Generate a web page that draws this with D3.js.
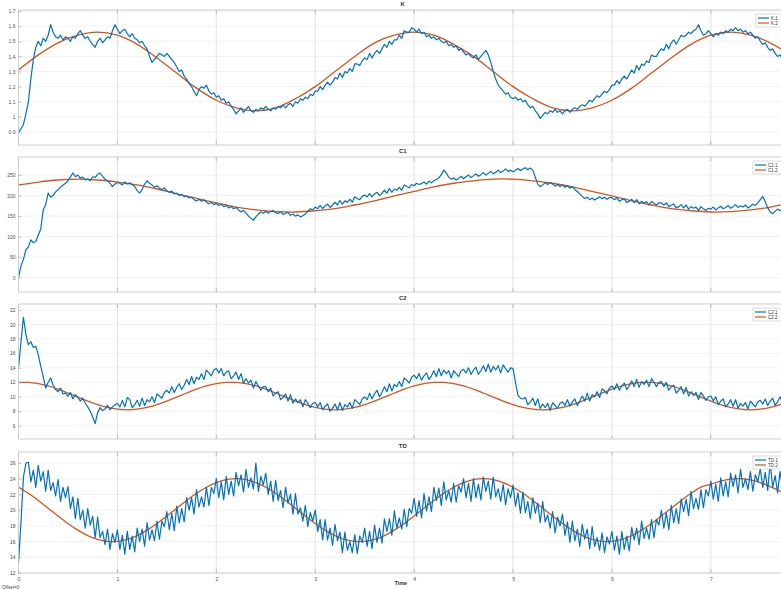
<!DOCTYPE html>
<html><head><meta charset="utf-8">
<script src="https://cdn.jsdelivr.net/npm/d3@7/dist/d3.min.js"></script>
<style>
body{margin:0;background:#fff;}
svg{display:block;font-family:"Liberation Sans",Arial,sans-serif;}
</style></head><body>
<svg id="chart" width="781" height="589"></svg>
<script>
// ---- sample times ----
const blueStep = 0.025;   // measured series sample interval
const orangeStepK = 0.2, orangeStepC1 = 0.2, orangeStepC2 = 0.1, orangeStepTD = 0.1;
const xTicks = [0,1,2,3,4,5,6,7];
const xLabel = "Time";
const offsetLabel = "Offset=0";

// ---- K ----
const kTicks = [0.9,1,1.1,1.2,1.3,1.4,1.5,1.6,1.7];
const K1 = [
0.90,0.92,0.95,1.02,1.10,1.25,1.38,1.46,1.50,1.47,1.52,1.50,1.54,1.61,1.56,1.53,1.52,1.54,1.51,1.53,1.52,1.50,1.53,1.52,1.55,1.57,1.54,1.52,1.53,1.50,1.48,1.46,1.50,1.52,1.49,1.51,1.53,1.52,1.57,1.61,
1.58,1.55,1.57,1.58,1.55,1.53,1.55,1.52,1.51,1.49,1.50,1.47,1.45,1.40,1.36,1.38,1.40,1.42,1.41,1.40,1.42,1.40,1.38,1.36,1.33,1.30,1.31,1.27,1.25,1.22,1.20,1.17,1.14,1.18,1.20,1.19,1.21,1.17,1.15,1.16,
1.13,1.14,1.11,1.12,1.09,1.10,1.07,1.05,1.02,1.04,1.06,1.03,1.05,1.07,1.04,1.03,1.05,1.04,1.06,1.05,1.07,1.05,1.04,1.06,1.05,1.07,1.06,1.08,1.06,1.08,1.09,1.07,1.10,1.09,1.12,1.11,1.13,1.12,1.15,1.14,
1.17,1.17,1.20,1.18,1.21,1.23,1.21,1.23,1.26,1.25,1.29,1.26,1.30,1.29,1.32,1.30,1.35,1.35,1.34,1.37,1.39,1.38,1.42,1.39,1.42,1.44,1.42,1.45,1.48,1.46,1.50,1.48,1.51,1.51,1.54,1.52,1.57,1.56,1.56,1.59,
1.58,1.56,1.58,1.55,1.56,1.53,1.54,1.52,1.53,1.51,1.52,1.50,1.49,1.50,1.47,1.48,1.46,1.47,1.44,1.45,1.43,1.41,1.42,1.40,1.39,1.41,1.38,1.40,1.42,1.44,1.41,1.36,1.30,1.25,1.21,1.19,1.17,1.15,1.16,1.13,
1.12,1.13,1.11,1.12,1.10,1.11,1.08,1.06,1.07,1.04,1.02,0.99,1.01,1.03,1.02,1.04,1.03,1.05,1.03,1.04,1.02,1.04,1.05,1.03,1.05,1.06,1.05,1.07,1.08,1.07,1.09,1.11,1.10,1.12,1.14,1.13,1.15,1.17,1.16,1.18,
1.21,1.21,1.24,1.22,1.25,1.27,1.25,1.28,1.31,1.29,1.34,1.31,1.35,1.34,1.37,1.36,1.41,1.40,1.40,1.43,1.45,1.44,1.48,1.45,1.49,1.51,1.48,1.51,1.54,1.53,1.54,1.56,1.55,1.57,1.58,1.61,1.57,1.54,1.55,1.57,
1.55,1.53,1.55,1.54,1.56,1.55,1.57,1.56,1.58,1.57,1.59,1.57,1.58,1.56,1.57,1.55,1.56,1.54,1.52,1.53,1.50,1.48,1.49,1.46,1.44,1.45,1.42,1.40,1.41,1.38,1.36,1.37];
const K2 = [1.31,1.41,1.49,1.54,1.56,1.54,1.48,1.39,1.29,1.19,1.11,1.06,1.04,1.06,1.12,1.20,1.30,1.40,1.49,1.54,
1.56,1.54,1.48,1.40,1.30,1.20,1.12,1.06,1.04,1.06,1.11,1.19,1.29,1.39,1.48,1.54,1.56,1.54,1.49,1.41];

// ---- C1 ----
const c1Ticks = [0,50,100,150,200,250];
const C1_1 = [
0,28,45,68,75,92,85,88,104,118,165,178,206,196,200,209,214,221,225,230,236,245,255,246,250,242,245,238,241,236,246,244,252,255,247,240,236,230,222,228,
232,230,226,233,228,231,227,222,212,206,215,228,236,230,226,220,224,218,214,219,212,208,211,204,206,200,203,197,199,194,196,190,187,191,186,189,184,180,183,178,
181,176,179,173,176,170,173,168,171,165,160,164,158,150,145,140,148,155,160,157,162,157,161,164,158,156,161,154,157,159,152,155,150,153,148,151,155,162,168,165,
172,168,176,168,175,179,171,177,184,177,188,179,187,184,191,184,197,193,190,198,201,197,205,197,204,208,200,206,213,206,217,208,216,213,220,213,226,222,219,227,
224,230,227,229,233,228,235,231,236,239,243,251,262,255,245,240,243,238,242,247,241,246,250,244,248,253,247,251,256,250,254,259,253,257,262,256,260,265,259,262,
258,262,266,261,265,268,263,267,262,245,228,222,226,231,227,232,228,223,227,222,226,220,224,218,222,215,210,204,198,193,196,190,194,189,193,197,192,196,191,195,
195,190,195,186,190,192,183,186,191,183,190,180,186,182,185,177,186,181,177,182,182,177,182,173,177,179,170,173,178,170,177,167,173,169,172,164,173,168,164,169,
167,172,165,170,174,168,171,176,169,173,178,171,175,172,177,170,174,179,176,182,190,198,185,170,160,156,162,167,163,168,172,168];
const C1_2 = [226,233,238,240,238,233,226,216,204,193,182,172,165,161,160,163,168,177,187,199,
210,221,230,236,240,240,236,230,221,210,199,187,177,168,163,160,161,165,172,182];

// ---- C2 ----
const c2Ticks = [6,8,10,12,14,16,18,20,22];
const C2_1 = [
14.0,17.5,21.0,18.6,17.2,17.6,16.8,17.0,15.8,14.2,12.8,11.2,12.0,12.6,11.6,11.0,10.7,11.2,10.4,10.5,10.1,10.6,9.7,10.3,9.9,9.4,9.8,9.1,8.6,8.0,7.2,6.3,7.8,8.5,8.1,8.3,8.8,8.2,8.6,8.9,
9.1,8.6,9.5,8.6,9.9,9.6,8.5,8.9,9.5,8.7,9.8,8.8,9.6,9.3,10.0,9.2,10.4,10.1,9.8,10.6,10.9,10.5,11.4,10.6,11.3,11.8,11.0,11.6,12.4,11.7,12.8,11.8,12.7,12.4,13.2,12.4,13.7,13.3,12.9,13.7,
13.9,13.3,13.9,12.9,13.4,13.6,12.5,12.9,13.4,12.4,13.2,11.9,12.5,11.9,12.3,11.2,12.1,11.5,10.9,11.4,11.4,10.7,11.2,10.1,10.5,10.7,9.6,9.9,10.4,9.4,10.3,9.1,9.7,9.2,9.6,8.6,9.6,9.1,8.5,9.1,
9.2,8.6,9.2,8.2,8.7,9.0,8.0,8.4,9.0,8.2,9.2,8.1,8.9,8.6,9.2,8.4,9.6,9.3,8.9,9.7,10.0,9.6,10.5,9.7,10.4,10.9,10.0,10.6,11.4,10.7,11.8,10.8,11.7,11.4,12.1,11.4,12.6,12.3,11.9,12.7,
13.0,12.5,13.2,12.3,12.9,13.3,12.4,12.9,13.6,12.8,13.9,12.9,13.7,13.2,13.6,12.6,13.6,13.2,12.8,13.6,13.8,13.3,14.0,13.1,13.7,14.1,13.1,13.6,14.3,13.5,14.5,13.4,14.2,13.7,14.3,13.3,14.4,13.9,13.4,14.0,
13.9,12.0,10.2,9.8,9.7,9.9,8.9,9.3,9.8,8.8,9.7,8.4,9.0,8.5,9.1,8.1,9.2,8.8,8.4,9.1,9.3,8.8,9.6,8.7,9.3,9.7,8.8,9.4,10.1,9.4,10.5,9.4,10.3,10.0,10.7,9.9,11.1,10.8,10.4,11.2,
11.5,11.0,11.8,10.9,11.5,11.9,11.0,11.5,12.2,11.4,12.4,11.3,12.1,11.7,12.3,11.4,12.5,12.0,11.4,12.0,12.1,11.4,12.0,10.9,11.4,11.6,10.5,10.9,11.4,10.4,11.3,10.1,10.7,10.2,10.6,9.6,10.6,10.1,9.5,10.0,
10.1,9.4,10.0,8.9,9.4,9.7,8.6,9.0,9.6,8.7,9.6,8.4,9.1,8.7,9.2,8.3,9.4,9.0,8.6,9.3,9.5,9.0,9.7,8.8,9.4,9.8,8.8,9.3,10.0,9.2,10.2,9.0];
const C2_2 = [
11.98,11.98,11.81,11.49,11.05,10.52,9.96,9.41,8.92,8.53,8.28,8.20,8.28,8.53,8.92,9.41,9.96,10.52,11.05,11.49,11.81,
11.98,11.98,11.81,11.49,11.05,10.52,9.96,9.41,8.92,8.53,8.28,8.20,8.28,8.53,8.92,9.41,9.96,10.52,11.05,11.49,11.81,
11.98,11.98,11.81,11.49,11.05,10.52,9.96,9.41,8.92,8.53,8.28,8.20,8.28,8.53,8.92,9.41,9.96,10.52,11.05,11.49,11.81,
11.98,11.98,11.81,11.49,11.05,10.52,9.96,9.41,8.92,8.53,8.28,8.20,8.28,8.53,8.92,9.41];

// ---- TD ----
const tdTicks = [12,14,16,18,20,22,24,26];
const TD1 = [
13.3,18.5,24.2,26.0,
26.1,23.6,25.1,22.9, 25.7,23.7,24.9,22.4, 25.1,22.5,23.5,21.8, 23.9,21.1,22.9,21.6, 23.0,20.2,21.7,18.9,
21.5,18.8,20.0,17.7, 20.2,18.1,19.2,16.5, 19.1,16.5,17.3,15.6, 17.6,15.0,17.0,15.9, 17.5,15.0,16.8,14.4,
17.3,15.0,16.7,14.7, 17.7,16.0,17.6,15.4, 18.4,16.2,17.5,16.1, 18.6,16.3,18.6,17.9, 19.8,17.5,19.6,17.4,
20.5,18.4,20.2,18.5, 21.6,20.0,21.6,19.5, 22.6,20.4,21.7,20.4, 22.9,20.6,22.9,22.1, 24.0,21.6,23.6,21.3,
24.3,22.0,23.7,21.8, 24.8,23.1,24.5,22.3, 25.2,22.9,24.1,22.7, 26.0,22.4,24.3,23.2, 24.7,22.0,23.7,21.1,
23.8,21.2,22.5,20.3, 22.9,20.9,22.0,19.5, 22.1,19.5,20.3,18.6, 20.6,17.9,19.7,18.6, 20.0,17.3,18.8,16.2,
18.8,16.2,17.7,15.5, 18.2,16.1,17.2,14.6, 17.2,14.9,16.0,14.6, 16.9,14.5,16.7,15.9, 17.7,15.4,17.3,15.1,
18.1,15.9,17.7,15.8, 18.9,17.3,18.9,16.8, 19.9,17.7,19.0,17.6, 20.1,17.9,20.2,19.6, 21.5,19.2,21.2,19.0,
22.1,19.9,21.7,19.8, 22.9,21.2,22.8,20.6, 23.6,21.3,22.5,21.0, 23.4,21.0,23.1,22.3, 24.0,21.6,23.4,21.1,
24.0,21.6,23.3,21.3, 24.2,22.4,23.7,21.4, 24.2,21.7,22.7,21.1, 23.3,20.7,22.7,21.6, 23.2,20.5,22.2,19.6,
22.3,19.7,21.1,18.9, 21.6,19.6,20.9,18.4, 21.1,18.5,19.4,17.7, 19.8,17.1,19.1,18.0, 19.5,16.8,18.5,15.9,
18.6,16.1,17.6,15.4, 18.2,16.3,17.6,15.1, 17.9,15.4,16.5,14.9, 17.1,14.6,16.6,15.7, 17.3,14.9,16.7,14.4,
17.3,15.0,16.7,14.8, 17.8,16.2,17.7,15.6, 18.6,16.4,17.7,16.3, 18.8,16.5,18.8,18.1, 20.0,17.7,19.7,17.5,
20.6,18.4,20.2,18.3, 21.4,19.8,21.4,19.3, 22.4,20.2,21.5,20.1, 22.6,20.3,22.6,21.8, 23.7,21.4,23.3,21.1,
24.1,21.8,23.6,21.7, 24.7,23.0,24.5,22.2, 25.2,22.9,24.0,22.6, 24.9,22.4,24.5,23.6, 25.3,22.9,24.8,22.5,
26.1,22.9,24.4,22.2, 24.9,22.9,24.1,21.6];
const TD2 = [
22.92,22.14,21.24,20.25,19.25,18.30,17.45,16.76,16.28,16.03,16.03,16.28,16.76,17.45,18.30,19.25,20.25,21.24,22.14,22.92,23.51,23.87,24.00,23.87,23.51,
22.92,22.14,21.24,20.25,19.25,18.30,17.45,16.76,16.28,16.03,16.03,16.28,16.76,17.45,18.30,19.25,20.25,21.24,22.14,22.92,23.51,23.87,24.00,23.87,23.51,
22.92,22.14,21.24,20.25,19.25,18.30,17.45,16.76,16.28,16.03,16.03,16.28,16.76,17.45,18.30,19.25,20.25,21.24,22.14,22.92,23.30,23.70,23.95,24.00,23.85,
23.50,23.00,22.40,21.70];

// ---- layout ----
const blue = "#0072BD", orange = "#D95319";
const svg = d3.select("#chart");
const x = d3.scaleLinear().domain([0, 7.77]).range([18.5, 787]);

const panels = [
  {title:"K",  blue:K1,   orange:K2,   oStep:orangeStepK,  ticks:kTicks,  names:["K.1","K.2"],   dom:[0.814,1.707], top:10,  bottom:145, legX:756},
  {title:"C1", blue:C1_1, orange:C1_2, oStep:orangeStepC1, ticks:c1Ticks, names:["C1.1","C1.2"], dom:[-35,294],     top:157, bottom:292, legX:753},
  {title:"C2", blue:C2_1, orange:C2_2, oStep:orangeStepC2, ticks:c2Ticks, names:["C2.1","C2.2"], dom:[4.16,22.83],  top:304, bottom:439, legX:753},
  {title:"TD", blue:TD1,  orange:TD2,  oStep:orangeStepTD, ticks:tdTicks, names:["TD.1","TD.2"], dom:[12,27.4],     top:452, bottom:573, legX:753}
];

const fmt = d => String(+d.toFixed(2));

panels.forEach((p, pi) => {
  const y = d3.scaleLinear().domain(p.dom).range([p.bottom, p.top]);
  const g = svg.append("g");
  const x0 = x.range()[0], x1 = x.range()[1];

  g.append("rect").attr("x", x0).attr("y", p.top).attr("width", x1 - x0).attr("height", p.bottom - p.top)
    .attr("fill", "#fff");

  // grid
  g.append("g").selectAll("line").data(p.ticks).join("line")
    .attr("x1", x0).attr("x2", x1).attr("y1", d => y(d)).attr("y2", d => y(d))
    .attr("stroke", "#ececec").attr("stroke-width", 0.7);
  g.append("g").selectAll("line").data(xTicks.filter(d => d > 0)).join("line")
    .attr("x1", d => x(d)).attr("x2", d => x(d)).attr("y1", p.top).attr("y2", p.bottom)
    .attr("stroke", "#dcdcdc").attr("stroke-width", 0.8);

  // clip
  const cid = "clip" + pi;
  svg.append("clipPath").attr("id", cid).append("rect")
    .attr("x", x0).attr("y", p.top).attr("width", x1 - x0).attr("height", p.bottom - p.top);

  const lb = d3.line().x((d, i) => x(i * blueStep)).y(d => y(d));
  const lo = d3.line().x((d, i) => x(i * p.oStep)).y(d => y(d)).curve(d3.curveCatmullRom.alpha(0.5));
  const lines = g.append("g").attr("clip-path", `url(#${cid})`);
  lines.append("path").attr("d", lo(p.orange)).attr("fill", "none")
    .attr("stroke", orange).attr("stroke-width", 1.3);
  lines.append("path").attr("d", lb(p.blue)).attr("fill", "none")
    .attr("stroke", blue).attr("stroke-width", 1.2).attr("stroke-linejoin", "round");

  // y axis (ticks inside)
  const ya = g.append("g").attr("transform", `translate(${x0},0)`)
    .call(d3.axisLeft(y).tickValues(p.ticks).tickFormat(fmt).tickSizeInner(-3).tickSizeOuter(0).tickPadding(3));
  ya.select(".domain").remove();
  ya.selectAll("line").attr("stroke", "#9a9a9a").attr("stroke-width", 0.6);
  ya.selectAll("text").attr("font-size", 5).attr("fill", "#4d4d4d");

  // bottom / top tick marks
  g.append("g").selectAll("line").data(xTicks).join("line")
    .attr("x1", d => x(d)).attr("x2", d => x(d)).attr("y1", p.bottom).attr("y2", p.bottom - 4)
    .attr("stroke", "#9a9a9a").attr("stroke-width", 0.6);
  g.append("g").selectAll("line").data(xTicks).join("line")
    .attr("x1", d => x(d)).attr("x2", d => x(d)).attr("y1", p.top).attr("y2", p.top + 4)
    .attr("stroke", "#9a9a9a").attr("stroke-width", 0.6);

  // box
  g.append("rect").attr("x", x0).attr("y", p.top).attr("width", x1 - x0).attr("height", p.bottom - p.top)
    .attr("fill", "none").attr("stroke", "#c4c4c4").attr("stroke-width", 0.8);

  // title
  g.append("text").attr("x", (x0 + x1) / 2).attr("y", p.top - 4).attr("text-anchor", "middle")
    .attr("font-size", 6).attr("font-weight", "bold").attr("fill", "#333").text(p.title);

  // legend
  const lg = g.append("g").attr("transform", `translate(${p.legX},${p.top + 4})`);
  lg.append("rect").attr("width", 60).attr("height", 13).attr("fill", "#fff")
    .attr("stroke", "#c8c8c8").attr("stroke-width", 0.7);
  [[blue, p.names[0]], [orange, p.names[1]]].forEach(([c, n], k) => {
    const yy = 4 + k * 5;
    lg.append("line").attr("x1", 2).attr("x2", 13).attr("y1", yy).attr("y2", yy)
      .attr("stroke", c).attr("stroke-width", 1.2);
    lg.append("text").attr("x", 15).attr("y", yy).attr("dy", "0.35em")
      .attr("font-size", 4.5).attr("fill", "#333").text(n);
  });

  if (pi === panels.length - 1) {
    const xa = g.append("g").attr("transform", `translate(0,${p.bottom})`)
      .call(d3.axisBottom(x).tickValues(xTicks).tickFormat(d3.format("d")).tickSize(0).tickPadding(4));
    xa.select(".domain").remove();
    xa.selectAll("text").attr("font-size", 5).attr("fill", "#4d4d4d");
    g.append("text").attr("x", (x0 + x1) / 2 - 2).attr("y", p.bottom + 12).attr("text-anchor", "middle")
      .attr("font-size", 5.5).attr("font-weight", "bold").attr("fill", "#333").text(xLabel);
    g.append("text").attr("x", 2).attr("y", p.bottom + 15.5)
      .attr("font-size", 4.5).attr("fill", "#444").text(offsetLabel);
  }
});
</script>
</body></html>
